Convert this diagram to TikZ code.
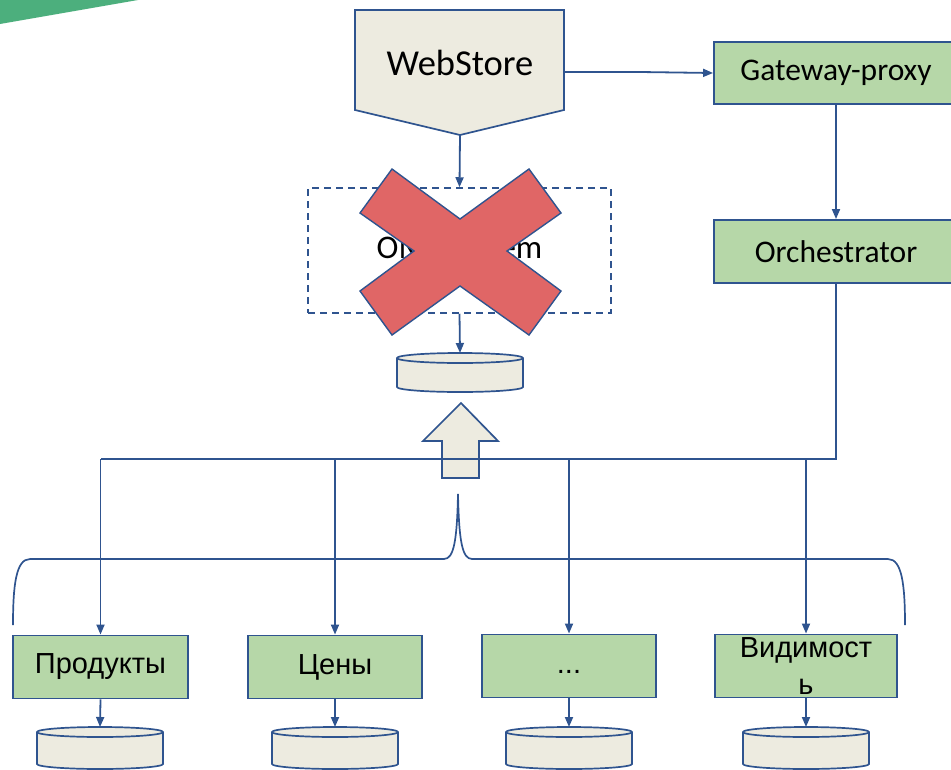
\documentclass[tikz,border=0pt]{standalone}
\usepackage{fontspec}
\setmainfont{Carlito}
\newfontfamily\arialf{Liberation Sans}
\usetikzlibrary{arrows.meta,calc}

\definecolor{edge}{RGB}{47,84,143}
\definecolor{boxgreen}{RGB}{182,215,168}
\definecolor{beige}{RGB}{237,235,224}
\definecolor{crossred}{RGB}{224,102,102}
\definecolor{corner}{RGB}{76,175,125}

% database cylinder: #1 name, #2 centre x, #3 top y, #4 bottom y
\newcommand{\dbcyl}[4]{%
  \coordinate (#1) at (#2,#3);
  \filldraw[fill=beige, draw=edge, line width=1.7pt]
    ($(#2,#3)+(-63,0)$) -- ($(#2,#4)+(-63,0)$) arc (180:360:63pt and 5pt)
    -- ($(#2,#3)+(63,0)$) arc (0:180:63pt and 5pt) -- cycle;
  \draw[edge, line width=1.7pt] ($(#2,#3)+(-63,0)$) arc (180:360:63pt and 5pt);
}

\begin{document}
\begin{tikzpicture}[x=1pt, y=-1pt,
  conn/.style={draw=edge, line width=1.8pt},
  arr/.style={conn, -{Triangle[length=10pt,width=8pt]}},
  svc/.style={draw=edge, line width=1.9pt, fill=boxgreen, inner sep=0pt,
    minimum height=62pt, font=\fontsize{31.5}{36}\selectfont},
  micro/.style={draw=edge, line width=1.9pt, fill=boxgreen, inner sep=0pt,
    minimum height=63pt, font=\arialf\fontsize{29}{37}\selectfont, align=center}]
\useasboundingbox (0,0) rectangle (951,769);
\clip (0,0) rectangle (951,769);

% corner band
\fill[corner] (0,0) -- (138,0) -- (0,24) -- cycle;

% WebStore front end
\filldraw[fill=beige, draw=edge, line width=1.7pt]
  (355,10) -- (564,10) -- (564,110) -- (460,135) -- (355,110) -- cycle;
\node[font=\fontsize{36.5}{40}\selectfont] (web) at (460,63) {WebStore};
\coordinate (webtip) at (460,135);
\coordinate (webright) at (564,72);

% gateway and orchestrator
\node[svc, minimum width=244pt] (gw) at (836,73) {Gateway-proxy};
\node[svc, minimum width=244pt, minimum height=63pt] (orch) at (836,251.5) {Orchestrator};

% retired monolith
\node[draw=edge, dashed, dash pattern=on 7pt off 5pt, line width=1.5pt,
  minimum width=303pt, minimum height=125pt, inner sep=0pt,
  font=\fontsize{33}{36}\selectfont] (oms) at (459.5,250.5) {OMS system};
\filldraw[fill=crossred, draw=edge, line width=1.4pt]
  (392,169) -- (460,219) -- (529,169) -- (561,213) -- (507,251) -- (561,291)
  -- (529,335) -- (460,286) -- (392,335) -- (360,291) -- (414,251) -- (360,213) -- cycle;

\dbcyl{omsdb}{460}{358}{387}

\draw[arr] (webtip) -- (oms.north);
\draw[arr] (oms.south) -- ($(omsdb)+(0,-5)$);
\draw[conn] (webright) -- (640,72);
\draw[arr] (640,72) -- (gw.west);
\draw[arr] (gw.south) -- (orch.north);

% migration arrow
\filldraw[fill=beige, draw=edge, line width=1.7pt]
  (461,403) -- (498,441) -- (479,441) -- (479,478) -- (442,478) -- (442,441) -- (423,441) -- cycle;

% microservices
\node[micro, minimum width=175pt] (p1) at (100.5,667) {Продукты};
\node[micro, minimum width=174pt] (p2) at (335,667) {Цены};
\node[micro, minimum width=174pt] (p3) at (569,666) {\raisebox{-7pt}[0pt][0pt]{...}};
\node[micro, minimum width=182pt] (p4) at (806,666) {Видимост\\ь};

\dbcyl{d1}{100}{732}{764}
\dbcyl{d2}{335}{732}{764}
\dbcyl{d3}{569}{732}{764}
\dbcyl{d4}{806}{732}{764}

\foreach \s/\d in {p1/d1, p2/d2, p3/d3, p4/d4}
  \draw[arr] (\s.south) -- ($(\d)+(0,-5)$);

% orchestrator bus
\coordinate (bus) at (836,459);
\draw[conn] (orch.south) -- (bus) -- (bus -| p1.north);
\foreach \p in {p1, p2, p3, p4}
  \draw[arr] (bus -| \p.north) -- (\p.north);

% grouping brace
\draw[edge, line width=1.7pt]
  (13,625) .. controls (13,585) and (16,559) .. (30,559) -- (444,559)
  .. controls (454,559) and (457,540) .. (458,494)
  .. controls (459,540) and (462,559) .. (472,559) -- (888,559)
  .. controls (902,559) and (905,585) .. (905,625);
\end{tikzpicture}
\end{document}
